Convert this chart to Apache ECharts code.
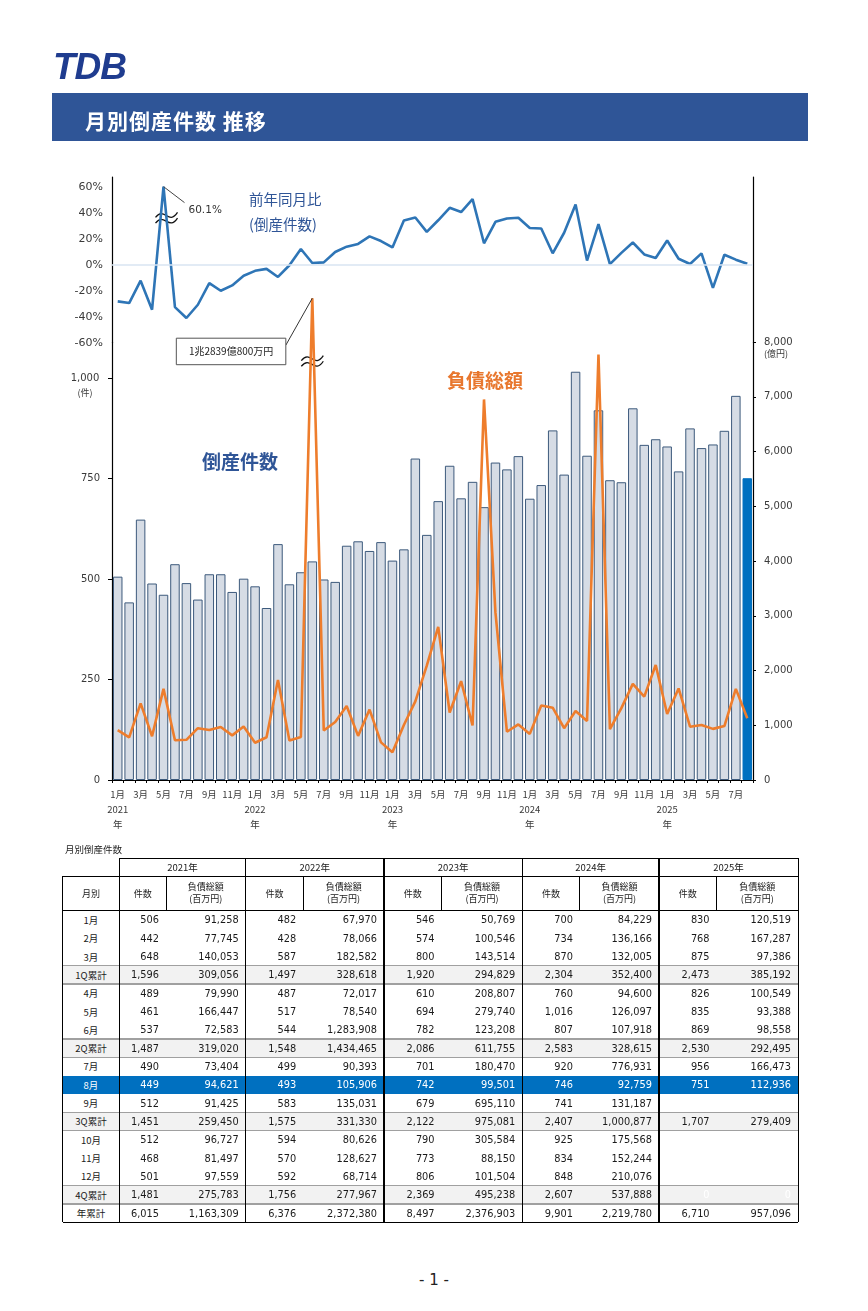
<!DOCTYPE html>
<html lang="ja"><head><meta charset="utf-8"><title>月別倒産件数 推移</title>
<script src="https://cdn.jsdelivr.net/npm/echarts@6.0.0/dist/echarts.min.js"></script>
<style>
html,body{margin:0;padding:0;background:#fff;}
body{width:868px;height:1311px;position:relative;overflow:hidden;font-family:"DejaVu Sans","Noto Sans CJK JP",sans-serif;}
#chart{position:absolute;left:0;top:0;width:868px;height:845px;}
#logo{position:absolute;left:53px;top:48px;line-height:37px;font-family:"Liberation Sans",Arial,sans-serif;font-weight:bold;font-style:italic;font-size:37px;color:#1f3c8f;letter-spacing:-1px;}
#band{position:absolute;left:52px;top:93px;width:756px;height:48px;background:#2f5597;}
#band span{position:absolute;left:33px;top:3px;line-height:48px;color:#fff;font-family:"Noto Sans CJK JP",sans-serif;font-weight:bold;font-size:21px;letter-spacing:1px;}
#ttl{position:absolute;left:65px;top:842px;font-size:9.5px;line-height:14px;color:#222;font-family:"Noto Sans CJK JP",sans-serif;}
#foot{position:absolute;left:0;width:868px;top:1270px;text-align:center;font-size:15px;line-height:20px;color:#222;}
.c{position:absolute;display:flex;align-items:center;box-sizing:border-box;white-space:pre;text-align:center;}
.l{position:absolute;}
</style></head>
<body>
<div id="chart"></div>
<div id="logo">TDB</div>
<div id="band"><span>月別倒産件数 推移</span></div>
<div id="ttl">月別倒産件数</div>
<div id="foot">- 1 -</div>
<script>
// ---------------- data ----------------
const YEARS = ['2021', '2022', '2023', '2024', '2025'];
// 倒産件数 (件)
const cnt2021 = [506, 442, 648, 489, 461, 537, 490, 449, 512, 512, 468, 501];
const cnt2022 = [482, 428, 587, 487, 517, 544, 499, 493, 583, 594, 570, 592];
const cnt2023 = [546, 574, 800, 610, 694, 782, 701, 742, 679, 790, 773, 806];
const cnt2024 = [700, 734, 870, 760, 1016, 807, 920, 746, 741, 925, 834, 848];
const cnt2025 = [830, 768, 875, 826, 835, 869, 956, 751];
// 負債総額 (百万円)
const debt2021 = [91258, 77745, 140053, 79990, 166447, 72583, 73404, 94621, 91425, 96727, 81497, 97559];
const debt2022 = [67970, 78066, 182582, 72017, 78540, 1283908, 90393, 105906, 135031, 80626, 128627, 68714];
const debt2023 = [50769, 100546, 143514, 208807, 279740, 123208, 180470, 99501, 695110, 305584, 88150, 101504];
const debt2024 = [84229, 136166, 132005, 94600, 126097, 107918, 776931, 92759, 131187, 175568, 152244, 210076];
const debt2025 = [120519, 167287, 97386, 100549, 93388, 98558, 166473, 112936];
// 前年同月比 (倒産件数, %)
const yoy2021 = [-28.2, -29.5, -12.3, -34.6, 60.1, -32.6, -41.0, -30.8, -14.1, -20.0, -15.9, -8.5];
const yoy2022 = [-4.7, -3.2, -9.4, -0.4, 12.1, 1.3, 1.8, 9.8, 13.9, 16.0, 21.8, 18.2];
const yoy2023 = [13.3, 34.1, 36.3, 25.3, 34.2, 43.8, 40.5, 50.5, 16.5, 33.0, 35.6, 36.1];
const yoy2024 = [28.2, 27.9, 8.8, 24.6, 46.4, 3.2, 31.2, 0.5, 9.1, 17.1, 7.9, 5.2];
const yoy2025 = [18.6, 4.6, 0.6, 8.7, -17.8, 7.7, 3.9, 0.7];
// 四半期累計
const qCnt2021 = [1596, 1487, 1451, 1481];
const qCnt2022 = [1497, 1548, 1575, 1756];
const qCnt2023 = [1920, 2086, 2122, 2369];
const qCnt2024 = [2304, 2583, 2407, 2607];
const qCnt2025 = [2473, 2530, 1707, 0];
const qDebt2021 = [309056, 319020, 259450, 275783];
const qDebt2022 = [328618, 1434465, 331330, 277967];
const qDebt2023 = [294829, 611755, 975081, 495238];
const qDebt2024 = [352400, 328615, 1000877, 537888];
const qDebt2025 = [385192, 292495, 279409, 0];
// 年累計
const totCnt = [6015, 6376, 8497, 9901, 6710];
const totDebt = [1163309, 2372380, 2376903, 2219780, 957096];
const ROW_LABELS = ['1月','2月','3月','1Q累計','4月','5月','6月','2Q累計','7月','8月','9月','3Q累計','10月','11月','12月','4Q累計','年累計'];
const PEAK_LABEL_YOY = '60.1%';
const PEAK_LABEL_DEBT = '1兆2839億800万円';
// 負債総額のグラフ表示上の上限（軸の省略表示、億円）
const DEBT_BREAK_CAP = 8800;

const cntByYear = [cnt2021, cnt2022, cnt2023, cnt2024, cnt2025];
const debtByYear = [debt2021, debt2022, debt2023, debt2024, debt2025];
const yoyByYear = [yoy2021, yoy2022, yoy2023, yoy2024, yoy2025];
const qCntByYear = [qCnt2021, qCnt2022, qCnt2023, qCnt2024, qCnt2025];
const qDebtByYear = [qDebt2021, qDebt2022, qDebt2023, qDebt2024, qDebt2025];

const cats = [], counts = [], debts = [], yoys = [];
YEARS.forEach((y, yi) => {
  cntByYear[yi].forEach((v, m) => {
    cats.push(y + '/' + (m + 1));
    counts.push(v);
    debts.push(debtByYear[yi][m] / 100); // 億円
    yoys.push(yoyByYear[yi][m]);
  });
});
const lastIdx = counts.length - 1;
const debtShown = debts.map(v => Math.min(v, DEBT_BREAK_CAP));
const yoyPeakIdx = yoys.indexOf(Math.max(...yoys));
const debtPeakIdx = debts.indexOf(Math.max(...debts));

// ---------------- chart ----------------
const chart = echarts.init(document.getElementById('chart'), null, {renderer: 'canvas'});
const AX = '#000';
const LBL = '#3a3a3a';
const option = {
  animation: false,
  textStyle: {fontFamily: 'DejaVu Sans, Noto Sans CJK JP, sans-serif'},
  grid: [
    {left: 112, top: 177, width: 641, height: 165.7},
    {left: 112, top: 342, width: 641, height: 438}
  ],
  xAxis: [
    {type: 'category', gridIndex: 0, data: cats, show: false, boundaryGap: true},
    {type: 'category', gridIndex: 1, data: cats, boundaryGap: true,
      axisLine: {lineStyle: {color: AX, width: 1.2}},
      axisTick: {show: true, interval: 0, length: 3, lineStyle: {color: AX}},
      axisLabel: {interval: 1, margin: 7, fontSize: 9.5, lineHeight: 15, color: LBL,
        fontFamily: 'Noto Sans CJK JP',
        formatter: v => { const [y, m] = v.split('/'); return m === '1' ? m + '月\n' + y + '\n年' : m + '月'; }}
    }
  ],
  yAxis: [
    {type: 'value', gridIndex: 0, min: -60, max: 67.5, interval: 20,
      axisLine: {show: true, lineStyle: {color: AX, width: 1.2}}, axisTick: {show: false}, splitLine: {show: false},
      axisLabel: {showMaxLabel: false, formatter: '{value}%', fontSize: 11, color: LBL, margin: 9}},
    {type: 'value', gridIndex: 0, position: 'right', min: -60, max: 67.5, interval: 20,
      axisLine: {show: true, lineStyle: {color: AX, width: 1.2}}, axisTick: {show: false}, axisLabel: {show: false}, splitLine: {show: false}},
    {type: 'value', gridIndex: 1, min: 0, max: 1090, interval: 250,
      axisLine: {show: true, lineStyle: {color: AX, width: 1.2}}, axisTick: {show: true, length: 4, lineStyle: {color: AX}}, splitLine: {show: false},
      axisLabel: {showMaxLabel: false, fontSize: 10, color: LBL, margin: 12,
        formatter: v => v === 1000 ? '{b| }\n{n|1,000}\n{u|(件)}' : v.toLocaleString('en-US'),
        rich: {b: {lineHeight: 14, fontSize: 9}, n: {lineHeight: 14, fontSize: 10, width: 30, align: 'center', color: LBL}, u: {lineHeight: 14, fontSize: 9, width: 30, align: 'center', color: LBL, fontFamily: 'Noto Sans CJK JP'}}}},
    {type: 'value', gridIndex: 1, position: 'right', min: 0, max: 8000, interval: 1000,
      axisLine: {show: true, lineStyle: {color: AX, width: 1.2}}, axisTick: {show: true, length: 3, lineStyle: {color: AX}}, splitLine: {show: false},
      axisLabel: {fontSize: 10, color: LBL, margin: 11,
        formatter: v => v === 8000 ? '{b| }\n{n|8,000}\n{u|(億円)}' : v.toLocaleString('en-US'),
        rich: {b: {lineHeight: 12, fontSize: 9}, n: {lineHeight: 12, fontSize: 10, color: LBL}, u: {lineHeight: 12, fontSize: 9, color: LBL, fontFamily: 'Noto Sans CJK JP'}}}}
  ],
  series: [
    {type: 'line', name: '前年同月比', xAxisIndex: 0, yAxisIndex: 0, data: yoys, symbol: 'none', z: 4,
      lineStyle: {color: '#2e75b6', width: 2.6},
      markLine: {silent: true, symbol: 'none', label: {show: false}, lineStyle: {color: '#d9e4f2', width: 1.6, type: 'solid'}, data: [{yAxis: 0}]}},
    {type: 'bar', name: '倒産件数', xAxisIndex: 1, yAxisIndex: 2, barWidth: '83%',
      data: counts.map((v, i) => i === lastIdx ? {value: v, itemStyle: {color: '#0070c0', borderColor: '#0070c0'}} : v),
      itemStyle: {color: '#d6dce5', borderColor: '#3d5a7c', borderWidth: 1}},
    {type: 'line', name: '負債総額', xAxisIndex: 1, yAxisIndex: 3, data: debtShown, symbol: 'none', clip: false, z: 5,
      lineStyle: {color: '#ee7d2c', width: 2.6}}
  ]
};
chart.setOption(option);

function breakMark(cx, cy) {
  const wave = (dy, stroke, w) => ({type: 'bezierCurve', silent: true,
    shape: {x1: -11, y1: 1.5 + dy, cpx1: -2, cpy1: -10 + dy, cpx2: 2, cpy2: 10 + dy, x2: 11, y2: -3.5 + dy},
    style: {fill: 'none', stroke: stroke, lineWidth: w}});
  return {type: 'group', x: cx, y: cy, z: 100, children: [wave(2.8, '#fff', 5.5), wave(0, '#111', 1.3), wave(5.6, '#111', 1.3)]};
}
const pYoy = chart.convertToPixel({seriesIndex: 0}, [yoyPeakIdx, yoys[yoyPeakIdx]]);
const pYoyBrk = chart.convertToPixel({seriesIndex: 0}, [yoyPeakIdx, 36]);
const pDebt = chart.convertToPixel({seriesIndex: 2}, [debtPeakIdx, DEBT_BREAK_CAP]);
const pDebtBrk = chart.convertToPixel({seriesIndex: 2}, [debtPeakIdx, 7650]);
const TXT = {fontFamily: 'Noto Sans CJK JP', verticalAlign: 'middle'};
chart.setOption({graphic: [
  breakMark(pYoyBrk[0] + 3, pYoyBrk[1] - 2),
  breakMark(pDebtBrk[0], pDebtBrk[1] - 2),
  {type: 'line', z: 100, shape: {x1: pYoy[0], y1: pYoy[1], x2: pYoy[0] + 21, y2: pYoy[1] + 16}, style: {stroke: '#444', lineWidth: 1}},
  {type: 'text', z: 100, x: pYoy[0] + 25, y: pYoy[1] + 24, style: {text: PEAK_LABEL_YOY, font: '10.5px DejaVu Sans', fill: '#333', verticalAlign: 'middle'}},
  {type: 'line', z: 100, shape: {x1: pDebt[0], y1: pDebt[1], x2: pDebt[0] - 26.5, y2: pDebt[1] + 47}, style: {stroke: '#333', lineWidth: 1}},
  {type: 'rect', z: 100, shape: {x: pDebt[0] - 136, y: pDebt[1] + 40, width: 109.5, height: 26.5}, style: {fill: '#fff', stroke: '#555', lineWidth: 1}},
  {type: 'text', z: 101, x: pDebt[0] - 81.2, y: pDebt[1] + 53.5, style: Object.assign({text: PEAK_LABEL_DEBT, fontSize: 10, fill: '#222', align: 'center'}, TXT)},
  {type: 'text', z: 100, x: 249, y: 199, style: Object.assign({text: '前年同月比', fontSize: 14.5, fill: '#2f5597'}, TXT)},
  {type: 'text', z: 100, x: 249, y: 224, style: Object.assign({text: '(倒産件数)', fontSize: 14.5, fill: '#2f5597'}, TXT)},
  {type: 'text', z: 100, x: 447, y: 380.5, style: Object.assign({text: '負債総額', fontSize: 19, fontWeight: 'bold', fill: '#e8772e'}, TXT)},
  {type: 'text', z: 100, x: 202, y: 462, style: Object.assign({text: '倒産件数', fontSize: 19, fontWeight: 'bold', fill: '#2f5597'}, TXT)}
]});

// ---------------- table ----------------
const TL = 62.7, TM = 119.3, TR = 798;
const GROUPS = [[119.3, 166, 245.7], [245.7, 303.3, 384], [384, 441.6, 522.3], [522.3, 579.9, 659], [659, 716.6, 798]];
const Y0 = 858.3, Y1 = 876, Y2 = 910.7, RH = 18.33;
const fmt = v => v.toLocaleString('en-US');
function box(x, y, w, h, text, o) {
  o = o || {};
  const d = document.createElement('div');
  d.className = 'c';
  d.style.cssText += `left:${x}px;top:${y}px;width:${w}px;height:${h}px;justify-content:${o.align || 'center'};` +
    (o.pr ? `padding-right:${o.pr}px;` : '') + `font-size:${o.fs || 9.8}px;color:${o.color || '#1a1a1a'};` +
    (o.bg ? `background:${o.bg};` : '') + (o.lh ? `line-height:${o.lh}px;` : '') + (o.ff ? `font-family:${o.ff};` : '');
  d.textContent = text;
  document.body.appendChild(d);
}
function hl(x1, x2, y, c, w) { const d = document.createElement('div'); d.className = 'l'; d.style.cssText = `left:${x1}px;top:${y - w / 2}px;width:${x2 - x1}px;height:${w}px;background:${c};`; document.body.appendChild(d); }
function vl(x, y1, y2, c, w) { const d = document.createElement('div'); d.className = 'l'; d.style.cssText = `left:${x - w / 2}px;top:${y1}px;width:${w}px;height:${y2 - y1}px;background:${c};`; document.body.appendChild(d); }

const JP = '"Noto Sans CJK JP",sans-serif';
const YB = Y2 + ROW_LABELS.length * RH;
// row backgrounds
ROW_LABELS.forEach((lab, r) => {
  const top = Y2 + r * RH;
  if (lab.indexOf('Q') >= 0) box(TL, top, TR - TL, RH, '', {bg: '#f2f2f2'});
  if (lab === '8月') box(TL, top, TR - TL, RH, '', {bg: '#0070c0'});
});
// header
YEARS.forEach((y, yi) => {
  const [a, b, c] = GROUPS[yi];
  box(a, Y0, c - a, Y1 - Y0, y + '年', {fs: 9.5, ff: JP});
  box(a, Y1, b - a, Y2 - Y1, '件数', {fs: 9, ff: JP});
  box(b, Y1, c - b, Y2 - Y1, '負債総額\n(百万円)', {fs: 9, ff: JP, lh: 12});
});
box(TL, Y1, TM - TL, Y2 - Y1, '月別', {fs: 9, ff: JP});
// body
ROW_LABELS.forEach((lab, r) => {
  const top = Y2 + r * RH;
  const hi = lab === '8月';
  const col = hi ? '#fff' : '#1a1a1a';
  box(TL, top, TM - TL, RH, lab, {fs: 9.5, ff: JP, color: col});
  YEARS.forEach((y, yi) => {
    const [a, b, c] = GROUPS[yi];
    let cv = null, dv = null;
    if (lab === '年累計') { cv = totCnt[yi]; dv = totDebt[yi]; }
    else if (lab.indexOf('Q') >= 0) { const q = parseInt(lab, 10) - 1; cv = qCntByYear[yi][q]; dv = qDebtByYear[yi][q]; }
    else { const m = parseInt(lab, 10) - 1; if (m < cntByYear[yi].length) { cv = cntByYear[yi][m]; dv = debtByYear[yi][m]; } }
    if (cv === null) return;
    box(a, top, b - a, RH, fmt(cv), {align: 'flex-end', pr: 7, color: cv === 0 ? '#fff' : col});
    box(b, top, c - b, RH, fmt(dv), {align: 'flex-end', pr: 7, color: dv === 0 ? '#fff' : col});
  });
});
// lines
ROW_LABELS.forEach((lab, r) => {
  const top = Y2 + r * RH;
  if (lab.indexOf('Q') >= 0) { hl(TL, TR, top, '#a0a0a0', 1.6); hl(TL, TR, top + RH, '#a0a0a0', 1.6); }
  if (lab === '年累計') hl(TL, TR, top, '#a0a0a0', 1.6);
});
hl(TM, TR, Y0, '#000', 1);
hl(TL, TR, Y1, '#000', 1);
hl(TL, TR, Y2, '#000', 1.5);
hl(TL, TR, YB, '#000', 1);
vl(TL, Y1, YB, '#000', 1);
vl(TM, Y0, YB, '#000', 1);
GROUPS.forEach(([a, b, c], gi) => {
  vl(b, Y1, Y2, '#000', 1);
  vl(c, Y0, YB, '#000', gi === GROUPS.length - 1 ? 1 : 1.5);
});
</script>
</body></html>
